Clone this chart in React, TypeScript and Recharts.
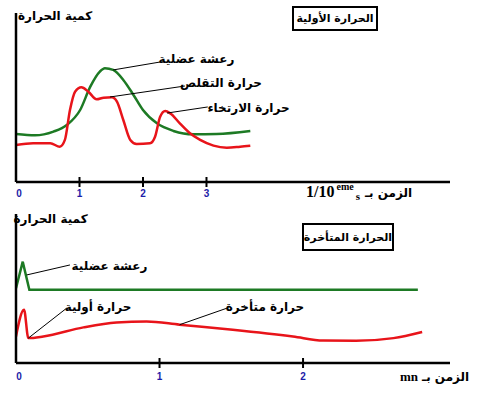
import { LineChart, Line, XAxis, YAxis, ReferenceLine } from 'recharts'

// top panel: time in 1/10 s, heat in arbitrary units (0..100)
const topTicks = [0, 1, 2, 3]
const topGreen = [
  { x: 0, y: 28.4 }, { x: 0.3, y: 27.6 }, { x: 0.59, y: 29.8 }, { x: 0.8, y: 33.7 },
  { x: 1.01, y: 42.6 }, { x: 1.17, y: 56.4 }, { x: 1.32, y: 65.3 }, { x: 1.4, y: 67.3 },
  { x: 1.53, y: 66.3 }, { x: 1.69, y: 60.4 }, { x: 1.85, y: 51.5 }, { x: 2.0, y: 42.6 },
  { x: 2.22, y: 34.7 }, { x: 2.48, y: 30.2 }, { x: 2.79, y: 28.2 }, { x: 3.16, y: 28.4 },
  { x: 3.69, y: 30.2 },
]
const topRed = [
  { x: 0, y: 21.9 }, { x: 0.27, y: 22.9 }, { x: 0.54, y: 22.9 }, { x: 0.69, y: 20.9 },
  { x: 0.77, y: 24.9 }, { x: 0.85, y: 42.6 }, { x: 0.93, y: 53.4 }, { x: 1.03, y: 56.0 },
  { x: 1.14, y: 53.4 }, { x: 1.27, y: 48.9 }, { x: 1.38, y: 49.9 }, { x: 1.51, y: 50.1 },
  { x: 1.59, y: 47.5 }, { x: 1.69, y: 36.7 }, { x: 1.8, y: 24.9 }, { x: 1.9, y: 22.5 },
  { x: 2.11, y: 22.9 }, { x: 2.19, y: 26.8 }, { x: 2.27, y: 38.6 }, { x: 2.35, y: 42.0 },
  { x: 2.43, y: 40.6 }, { x: 2.58, y: 34.7 }, { x: 2.74, y: 28.8 }, { x: 2.9, y: 24.9 },
  { x: 3.11, y: 21.5 }, { x: 3.32, y: 20.3 }, { x: 3.53, y: 20.9 }, { x: 3.69, y: 21.5 },
]
const topLeaders = [
  [{ x: 1.53, y: 66.3 }, { x: 2.27, y: 71.0 }],
  [{ x: 1.48, y: 50.3 }, { x: 2.66, y: 56.8 }],
  [{ x: 2.38, y: 40.8 }, { x: 3.02, y: 44.4 }],
]

// bottom panel: time in minutes
const bottomTicks = [0, 1, 2]
const bottomGreen = [
  { x: 0, y: 50.2 }, { x: 0.047, y: 68 }, { x: 0.093, y: 49.1 }, { x: 2.8, y: 49.1 },
]
const bottomRed = [
  { x: 0, y: 17.8 }, { x: 0.056, y: 35.7 }, { x: 0.086, y: 16.7 }, { x: 0.19, y: 17.8 },
  { x: 0.47, y: 23.9 }, { x: 0.7, y: 27.2 }, { x: 0.91, y: 27.9 }, { x: 1.14, y: 25.7 },
  { x: 1.51, y: 22.3 }, { x: 1.93, y: 17.8 }, { x: 2.14, y: 15.1 }, { x: 2.37, y: 14.9 },
  { x: 2.63, y: 16.7 }, { x: 2.83, y: 20.8 },
]
const bottomLeaders = [
  [{ x: 0.075, y: 59.1 }, { x: 0.376, y: 65.8 }],
  [{ x: 0.086, y: 16.7 }, { x: 0.353, y: 36.8 }],
  [{ x: 1.14, y: 25.7 }, { x: 1.47, y: 36.8 }],
]

const GREEN = '#1d7a24'
const RED = '#e8141a'
const AR_FONT = '"DejaVu Sans", sans-serif'

function makeTick(dy: number) {
  return function BlueTick({ x, y, payload }: any) {
    return (
      <g>
        {payload.value !== 0 && (
          <line x1={x} x2={x} y1={y - 5} y2={y + 5} stroke="#000" strokeWidth={2} />
        )}
        <text
          x={payload.value === 0 ? x + 3 : x}
          y={y + dy}
          textAnchor="middle"
          fill="#1c1ca8"
          fontSize={10}
          fontWeight="bold"
          fontFamily="'Liberation Sans', Arial, sans-serif"
        >
          {payload.value}
        </text>
      </g>
    )
  }
}

function Lbl({ x1, x2, cy, text, size = 12 }: { x1: number; x2: number; cy: number; text: string; size?: number }) {
  return (
    <div
      style={{
        position: 'absolute',
        left: x1 - 20,
        width: x2 - x1 + 40,
        top: cy - 10,
        height: 20,
        lineHeight: '20px',
        textAlign: 'center',
        fontFamily: AR_FONT,
        fontWeight: 'bold',
        fontSize: size,
        whiteSpace: 'nowrap',
        direction: 'rtl',
      }}
    >
      {text}
    </div>
  )
}

function TitleBox({ x1, x2, y1, y2, text }: { x1: number; x2: number; y1: number; y2: number; text: string }) {
  return (
    <div
      style={{
        position: 'absolute',
        left: x1,
        top: y1,
        width: x2 - x1,
        height: y2 - y1,
        boxSizing: 'border-box',
        border: '2px solid #000',
        background: '#fff',
        display: 'flex',
        alignItems: 'center',
        justifyContent: 'center',
        fontFamily: AR_FONT,
        fontWeight: 'bold',
        fontSize: 11,
        whiteSpace: 'nowrap',
        direction: 'rtl',
      }}
    >
      {text}
    </div>
  )
}

const axisStyle = { stroke: '#000', strokeWidth: 2.5 }

export default function App() {
  return (
    <div style={{ position: 'absolute', left: 0, top: 0, width: 487, height: 398, background: '#fff', overflow: 'hidden' }}>
      <div style={{ position: 'absolute', left: 0, top: 0 }}>
        <LineChart width={487} height={200} margin={{ top: 13, right: 37, bottom: 0, left: 14 }}>
          <XAxis
            type="number"
            dataKey="x"
            domain={[0, 6.835]}
            ticks={topTicks}
            interval={0}
            allowDataOverflow
            height={18}
            tickSize={0}
            tickMargin={0}
            tickLine={false}
            axisLine={axisStyle}
            tick={makeTick(15)}
          />
          <YAxis type="number" domain={[0, 100]} width={2} tick={false} tickLine={false} axisLine={axisStyle} />
          <Line data={topGreen} dataKey="y" type="monotone" stroke={GREEN} strokeWidth={2.5} dot={false} isAnimationActive={false} />
          <Line data={topRed} dataKey="y" type="monotone" stroke={RED} strokeWidth={2.5} dot={false} isAnimationActive={false} />
          {topLeaders.map((seg, i) => (
            <ReferenceLine key={i} segment={seg} stroke="#000" strokeWidth={1} />
          ))}
        </LineChart>
      </div>
      <div style={{ position: 'absolute', left: 0, top: 200 }}>
        <LineChart width={487} height={198} margin={{ top: 14, right: 37, bottom: 0, left: 14 }}>
          <XAxis
            type="number"
            dataKey="x"
            domain={[0, 3.024]}
            ticks={bottomTicks}
            interval={0}
            allowDataOverflow
            height={35}
            tickSize={0}
            tickMargin={0}
            tickLine={false}
            axisLine={axisStyle}
            tick={makeTick(17)}
          />
          <YAxis type="number" domain={[0, 100]} width={2} tick={false} tickLine={false} axisLine={axisStyle} />
          <Line data={bottomGreen} dataKey="y" type="linear" stroke={GREEN} strokeWidth={2.5} dot={false} isAnimationActive={false} />
          <Line data={bottomRed} dataKey="y" type="monotone" stroke={RED} strokeWidth={2.5} dot={false} isAnimationActive={false} />
          {bottomLeaders.map((seg, i) => (
            <ReferenceLine key={i} segment={seg} stroke="#000" strokeWidth={1} />
          ))}
        </LineChart>
      </div>

      {/* top panel texts */}
      <Lbl x1={22} x2={88} cy={16} text="كمية الحرارة" />
      <TitleBox x1={292} x2={378} y1={6} y2={31} text="الحرارة الأولية" />
      <Lbl x1={160} x2={233} cy={59} text="رعشة عضلية" />
      <Lbl x1={185} x2={257} cy={83} text="حرارة التقلص" />
      <Lbl x1={210} x2={287} cy={108} text="حرارة الارتخاء" />
      <div style={{ position: 'absolute', left: 306, top: 183, whiteSpace: 'nowrap', fontWeight: 'bold' }}>
        <span style={{ fontFamily: '"Liberation Serif", serif', fontSize: 16 }}>1/10</span>
        <span style={{ fontFamily: '"Liberation Serif", serif', fontSize: 10, position: 'relative', top: -7, marginLeft: 2 }}>eme</span>
        <span style={{ fontFamily: '"Liberation Serif", serif', fontSize: 11, position: 'relative', top: 3, marginLeft: 2 }}>s</span>
        <span style={{ fontFamily: AR_FONT, fontSize: 12, marginLeft: 5, direction: 'rtl', unicodeBidi: 'isolate' }}>الزمن بـ</span>
      </div>

      {/* bottom panel texts */}
      <Lbl x1={16} x2={85} cy={219} text="كمية الحرارة" />
      <TitleBox x1={302} x2={394} y1={223} y2={251} text="الحرارة المتأخرة" />
      <Lbl x1={73} x2={146} cy={266} text="رعشة عضلية" />
      <Lbl x1={68} x2={128} cy={307} text="حرارة أولية" />
      <Lbl x1={230} x2={300} cy={307} text="حرارة متأخرة" />
      <div style={{ position: 'absolute', left: 400, top: 367, whiteSpace: 'nowrap', fontWeight: 'bold' }}>
        <span style={{ fontFamily: '"Liberation Serif", serif', fontSize: 13 }}>mn</span>
        <span style={{ fontFamily: AR_FONT, fontSize: 12, marginLeft: 4, direction: 'rtl', unicodeBidi: 'isolate' }}>الزمن بـ</span>
      </div>
    </div>
  )
}
